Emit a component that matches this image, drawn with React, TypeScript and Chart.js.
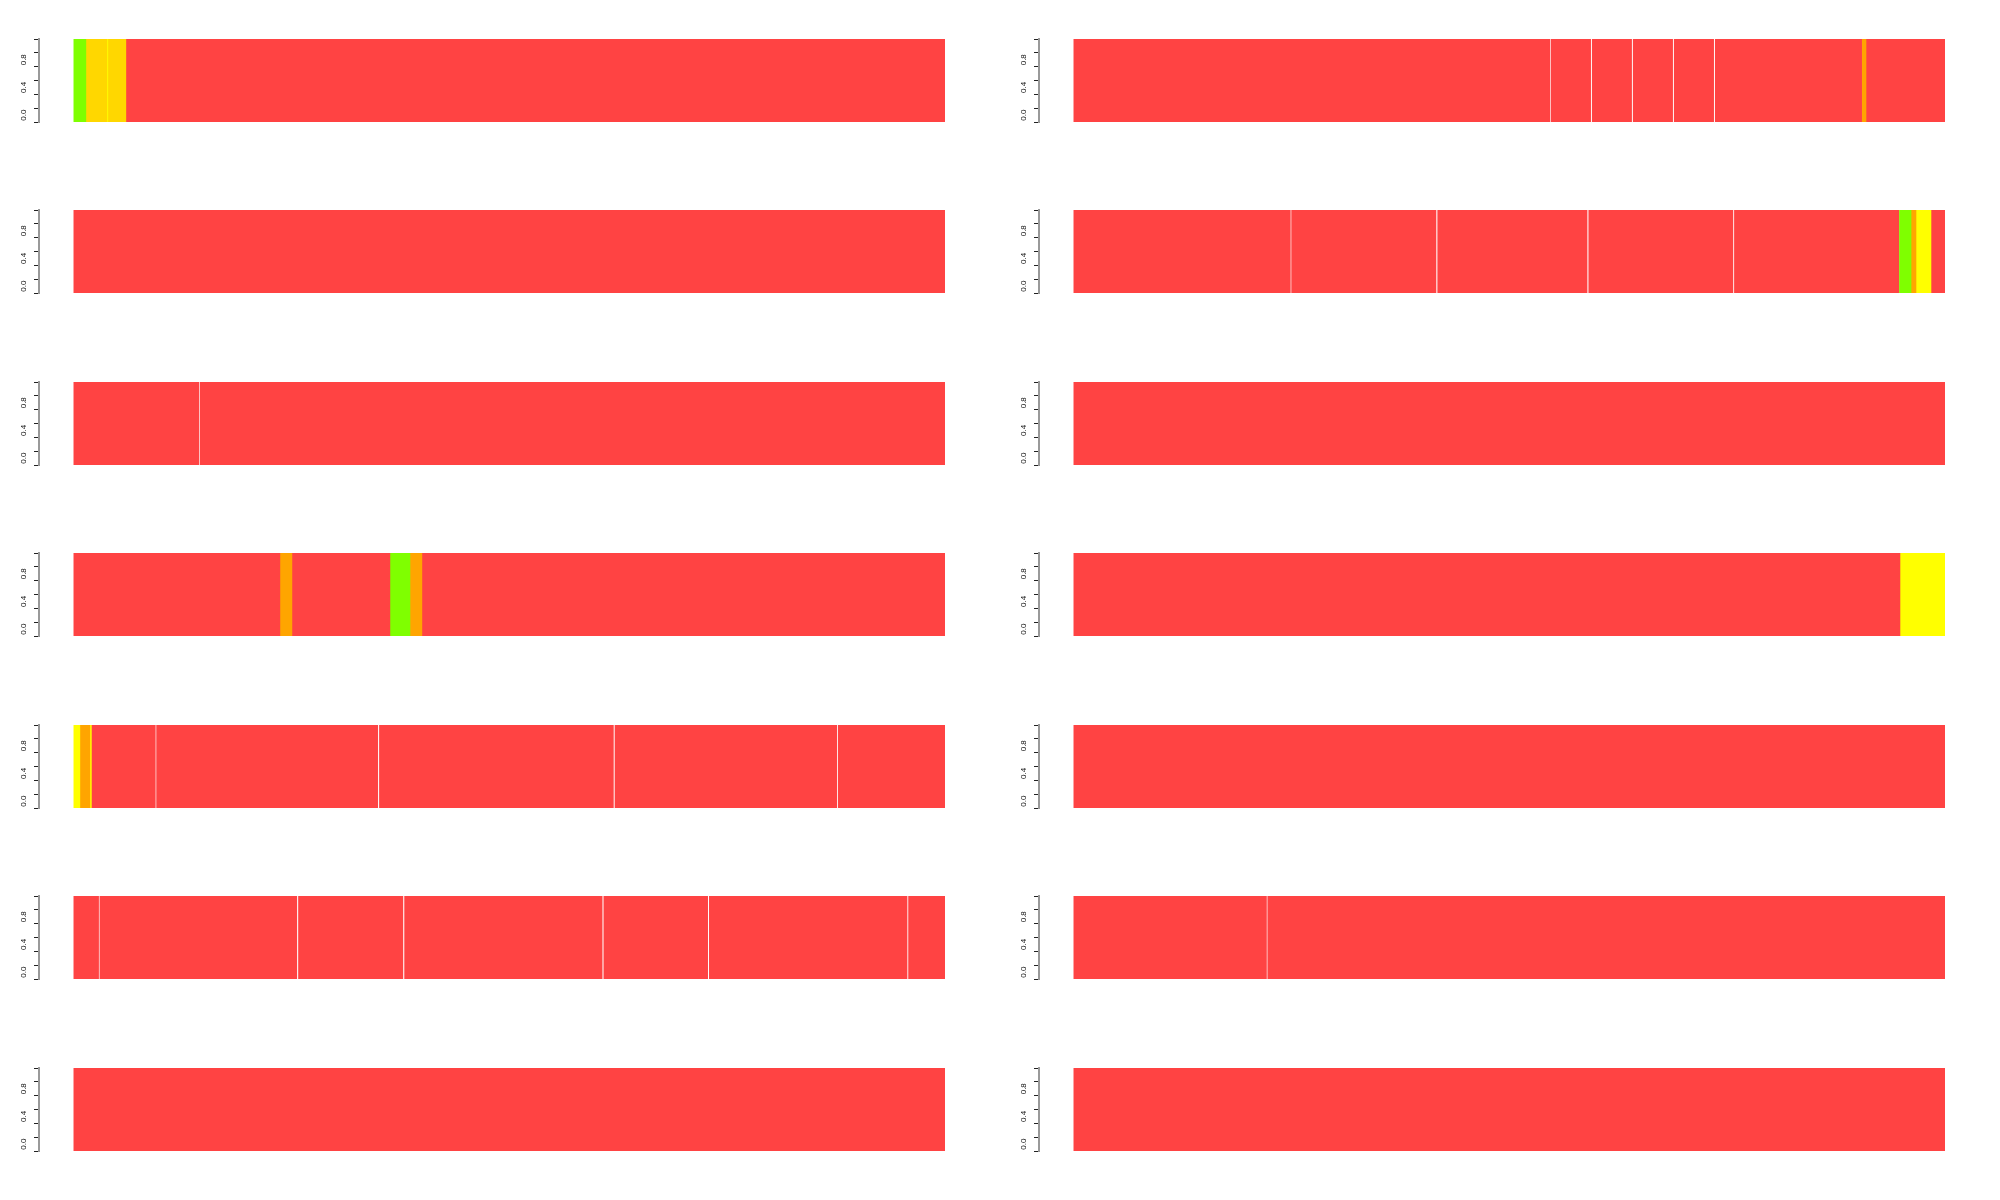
import React, { useEffect, useRef } from "react";
import { Chart, registerables } from "chart.js";

Chart.register(...registerables);

// State codes -> fill colours
const STATE_COLORS: Record<string, string> = {
  G: "#7FFF00",
  D: "#FFD700",
  Y: "#FFFF00",
  O: "#FFA500",
  R: "#FF4343",
};

// Each panel: segment boundaries (x units, 0..100) and the state of each segment
const P1_BOUNDS = [0, 1.38, 3.79, 3.9, 5.97, 100];
const P1_STATES = ["G", "D", "Y", "D", "R"];

const P2_BOUNDS = [0, 54.65, 59.36, 64.06, 68.77, 73.48, 90.47, 90.93, 100];
const P2_STATES = ["R", "R", "R", "R", "R", "R", "O", "R"];

const P3_BOUNDS = [0, 100];
const P3_STATES = ["R"];

const P4_BOUNDS = [0, 24.85, 41.62, 58.96, 75.68, 94.72, 96.1, 96.67, 98.39, 100];
const P4_STATES = ["R", "R", "R", "R", "R", "G", "O", "Y", "R"];

const P5_BOUNDS = [0, 14.35, 100];
const P5_STATES = ["R", "R"];

const P6_BOUNDS = [0, 100];
const P6_STATES = ["R"];

const P7_BOUNDS = [0, 23.65, 25.03, 36.28, 38.58, 39.95, 100];
const P7_STATES = ["R", "O", "R", "G", "O", "R"];

const P8_BOUNDS = [0, 94.83, 100];
const P8_STATES = ["R", "Y"];

const P9_BOUNDS = [0, 0.69, 1.84, 2.01, 9.35, 34.93, 61.97, 87.6, 100];
const P9_STATES = ["Y", "O", "Y", "R", "R", "R", "R", "R"];

const P10_BOUNDS = [0, 100];
const P10_STATES = ["R"];

const P11_BOUNDS = [0, 2.84, 25.64, 37.82, 60.69, 72.8, 95.67, 100];
const P11_STATES = ["R", "R", "R", "R", "R", "R", "R"];

const P12_BOUNDS = [0, 22.11, 100];
const P12_STATES = ["R", "R"];

const P13_BOUNDS = [0, 100];
const P13_STATES = ["R"];

const P14_BOUNDS = [0, 100];
const P14_STATES = ["R"];

const PANELS: [number[], string[]][] = [
  [P1_BOUNDS, P1_STATES],
  [P2_BOUNDS, P2_STATES],
  [P3_BOUNDS, P3_STATES],
  [P4_BOUNDS, P4_STATES],
  [P5_BOUNDS, P5_STATES],
  [P6_BOUNDS, P6_STATES],
  [P7_BOUNDS, P7_STATES],
  [P8_BOUNDS, P8_STATES],
  [P9_BOUNDS, P9_STATES],
  [P10_BOUNDS, P10_STATES],
  [P11_BOUNDS, P11_STATES],
  [P12_BOUNDS, P12_STATES],
  [P13_BOUNDS, P13_STATES],
  [P14_BOUNDS, P14_STATES],
];

const Y_LABELED_TICKS = [0, 0.4, 0.8];

const rotatedLabels = {
  id: "rotatedLabels",
  afterDraw(chart: any) {
    const s = chart.scales.yv;
    if (!s) return;
    const ctx = chart.ctx;
    ctx.save();
    ctx.font = '8px "Liberation Sans", Arial, sans-serif';
    ctx.fillStyle = "#111";
    ctx.textAlign = "center";
    ctx.textBaseline = "middle";
    s.ticks.forEach((t: any, i: number) => {
      if (!t.label) return;
      const y = s.getPixelForTick(i);
      ctx.save();
      ctx.translate(s.right - 15, y);
      ctx.rotate(-Math.PI / 2);
      ctx.fillText(t.label, 0, 0);
      ctx.restore();
    });
    ctx.restore();
  },
};

function Panel({ bounds, states }: { bounds: number[]; states: string[] }) {
  const ref = useRef<HTMLCanvasElement>(null);
  useEffect(() => {
    if (!ref.current) return;
    const datasets = states.map((st, i) => {
      const sep = i > 0 && states[i - 1] === st;
      return {
        data: [[bounds[i], bounds[i + 1]]] as any,
        backgroundColor: STATE_COLORS[st],
        borderColor: "#FFFFFF",
        borderWidth: sep ? { left: 1.3, right: 0, top: 0, bottom: 0 } : 0,
        borderSkipped: false as any,
        barPercentage: 1,
        categoryPercentage: 1,
        grouped: false,
        xAxisID: "x",
        yAxisID: "y",
      };
    });
    const chart = new Chart(ref.current, {
      type: "bar",
      data: { labels: ["s"], datasets },
      plugins: [rotatedLabels],
      options: {
        indexAxis: "y",
        animation: false,
        responsive: false,
        devicePixelRatio: 1,
        events: [],
        layout: { padding: { top: 39, right: 55, bottom: 50, left: 0 } },
        plugins: { legend: { display: false }, tooltip: { enabled: false } },
        scales: {
          x: { type: "linear", display: false, min: -4, max: 100 },
          y: { type: "category", display: false },
          yv: {
            type: "linear",
            position: "left",
            min: 0,
            max: 1,
            afterFit: (scale: any) => {
              scale.width = 39;
            },
            ticks: {
              display: false,
              stepSize: 0.2,
              callback: (v: any) => {
                const n = Number(v);
                return Y_LABELED_TICKS.some((t) => Math.abs(t - n) < 1e-6) ? n.toFixed(1) : "";
              },
            },
            grid: {
              drawOnChartArea: false,
              drawTicks: true,
              tickLength: 5,
              tickColor: "#222",
              tickWidth: 1,
            },
            border: { display: true, color: "#999", width: 2 },
          },
        },
      } as any,
    });
    return () => chart.destroy();
  }, [bounds, states]);
  return <canvas ref={ref} width={1000} height={172} style={{ display: "block" }} />;
}

export default function App() {
  useEffect(() => {
    document.body.style.margin = "0";
  }, []);
  return (
    <div style={{ position: "relative", width: 2000, height: 1200, background: "#fff" }}>
      {PANELS.map(([b, s], i) => {
        const row = Math.floor(i / 2);
        const col = i % 2;
        return (
          <div
            key={i}
            style={{
              position: "absolute",
              left: col * 1000,
              top: Math.round((row * 1200) / 7),
              width: 1000,
              height: 172,
            }}
          >
            <Panel bounds={b} states={s} />
          </div>
        );
      })}
    </div>
  );
}
